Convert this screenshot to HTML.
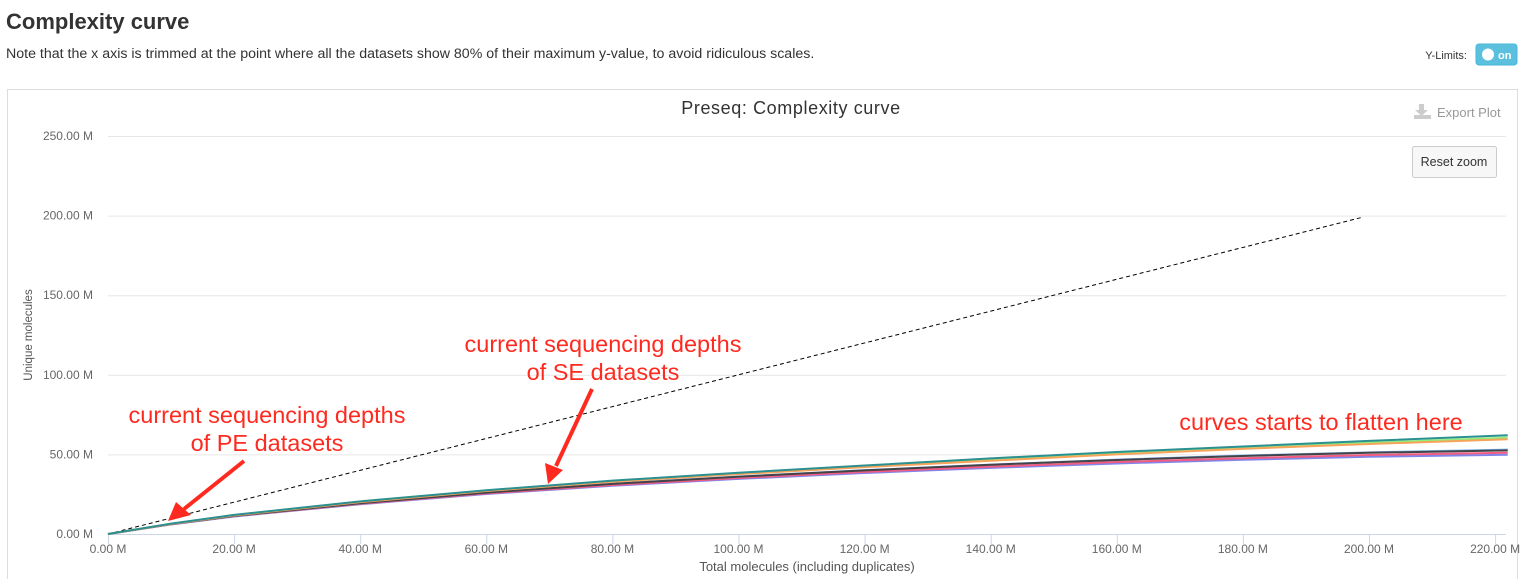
<!DOCTYPE html>
<html><head><meta charset="utf-8"><style>
body{margin:0;width:1527px;height:579px;overflow:hidden;background:#fff;font-family:"Liberation Sans",sans-serif;}
svg{position:absolute;left:0;top:0}
</style></head><body>
<svg id="c" width="1527" height="579" xmlns="http://www.w3.org/2000/svg">
<text x="6" y="29" font-size="22" font-weight="bold" fill="#333">Complexity curve</text>
<text x="6" y="58" font-size="14.2" fill="#333">Note that the x axis is trimmed at the point where all the datasets show 80% of their maximum y-value, to avoid ridiculous scales.</text>
<text x="1467" y="59" font-size="11" fill="#333" text-anchor="end">Y-Limits:</text>
<g><rect x="1476" y="44" width="41" height="21" rx="3" fill="#5bc0de" stroke="#46b8da"/><circle cx="1488" cy="54.5" r="6" fill="#fff"/><text x="1498" y="59" font-size="11" fill="#fff" font-weight="bold">on</text></g>
<rect x="7.5" y="89.5" width="1510" height="495" fill="#fff" stroke="#ddd"/>
<text x="791" y="114" font-size="18" letter-spacing="0.6" fill="#333" text-anchor="middle">Preseq: Complexity curve</text>
<g><path d="M1415 110h4v6h5v-6h4l-6.5-6z" fill="#ccc" transform="rotate(180 1421.5 110)"/><rect x="1414" y="115" width="17" height="4" fill="#ccc"/><text x="1437" y="117" font-size="13" fill="#999">Export Plot</text></g>
<g><rect x="1412.5" y="146.5" width="84" height="31" rx="2" fill="#f7f7f7" stroke="#ccc"/><text x="1454" y="166" font-size="12.5" fill="#333" text-anchor="middle">Reset zoom</text></g>
<g id="grid"></g><g id="series"></g>
<text transform="translate(32,335) rotate(-90)" font-size="11.5" fill="#555" text-anchor="middle">Unique molecules</text>
<text x="807" y="571" font-size="13" fill="#555" text-anchor="middle">Total molecules (including duplicates)</text>
<g fill="#ff2a1f" font-size="23.5" text-anchor="middle">
<text x="267" y="423">current sequencing depths</text><text x="267" y="451">of PE datasets</text>
<text x="603" y="352">current sequencing depths</text><text x="603" y="380">of SE datasets</text>
<text x="1321" y="430">curves starts to flatten here</text>
</g>
<g stroke="#ff2a1f" stroke-width="4" fill="#ff2a1f">
<line x1="244" y1="461" x2="184" y2="509"/><polygon points="168,521 176,502 191,515" stroke="none"/>
<line x1="592" y1="389" x2="556" y2="466"/><polygon points="548,484 545,463 563,470" stroke="none"/>
</g>
</svg>
<script>
const xTicks=[0,20,40,60,80,100,120,140,160,180,200,220];
const yTicks=[0,50,100,150,200,250];
const xs=[0,10,20,40,60,80,100,120,140,160,180,200,222];
const sTeal=[0,6.5,12,20.5,27.5,33.5,38.5,43,47.5,51.5,55,58.5,62];
const sOrange=[0,6.3,11.7,20,27,32.8,37.6,42,46,50,53.5,56.5,59.5];
const sGreen=[0,6.4,11.8,20.2,27.2,33.1,38,42.4,46.6,50.5,54,57.3,60.5];
const sBlack=[0,6.2,11.4,19.3,26,31.5,36,40,43.5,46.5,49,51,52.5];
const sBlue=[0,6.2,11.4,19.4,26.1,31.6,36.1,40.1,43.6,46.7,49.3,51.3,53];
const sPink=[0,6.1,11.2,19,25.5,30.8,35.2,39,42.3,45.2,47.6,49.6,51];
const sPurple=[0,6,11,18.7,25.1,30.3,34.6,38.3,41.5,44.3,46.6,48.5,49.8];
const diag=[0,199];
const X=v=>108+v*6.305, Y=v=>534-v*1.592;
const NS="http://www.w3.org/2000/svg";
const g=document.getElementById('grid'), s=document.getElementById('series');
function mk(p,tag,at,txt){const e=document.createElementNS(NS,tag);for(const k in at)e.setAttribute(k,at[k]);if(txt!==undefined)e.textContent=txt;p.appendChild(e);return e;}
yTicks.forEach(v=>{
 const l=mk(g,'line',{x1:108,x2:1506,y1:Y(v)+.5,y2:Y(v)+.5,stroke:v?'#e6e6e6':'#ccd6eb'});
 
 
 const t=mk(g,'text',{x:93,y:Y(v)+4,'font-size':12,fill:'#666','text-anchor':'end'},v.toFixed(2)+' M');
 
 
});
xTicks.forEach(v=>{
 const l=mk(g,'line',{x1:X(v)+.5,x2:X(v)+.5,y1:534,y2:544,stroke:'#ccd6eb'});
 
 
 const t=mk(g,'text',{x:X(v),y:553,'font-size':12,fill:'#666','text-anchor':'middle'},v.toFixed(2)+' M');
 
 
});
const d=mk(s,'line',{x1:X(diag[0]),y1:Y(diag[0]),x2:X(diag[1]),y2:Y(diag[1]),stroke:'#000','stroke-dasharray':'4,3','stroke-width':1});


[[sPurple,'#8085e9'],[sPink,'#f15c80'],[sBlue,'#7cb5ec'],[sBlack,'#434348'],[sGreen,'#90ed7d'],[sOrange,'#f7a35c'],[sTeal,'#2b908f']].forEach(([a,c])=>{
 const p=mk(s,'polyline',{points:a.map((v,i)=>X(xs[i])+','+Y(v)).join(' '),fill:'none',stroke:c,'stroke-width':2});
 
 
});
</script>
</body></html>
